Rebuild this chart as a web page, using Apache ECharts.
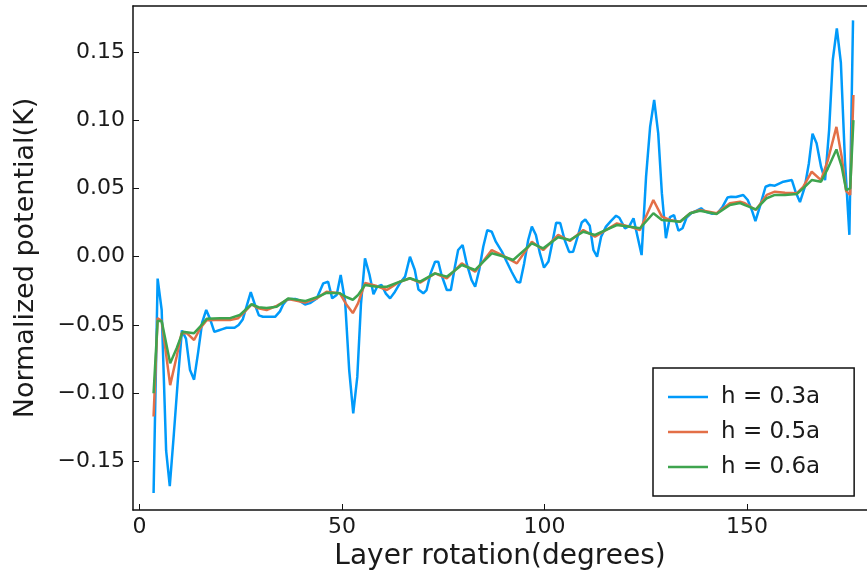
<!DOCTYPE html>
<html>
<head>
<meta charset="utf-8">
<script src="https://cdn.jsdelivr.net/npm/echarts@6/dist/echarts.min.js"></script>
<style>html,body{margin:0;padding:0;background:#fff}#c{width:867px;height:579px}</style>
</head>
<body>
<div id="c"></div>
<script>
const seriesNames = ["h = 0.3a", "h = 0.5a", "h = 0.6a"];
const xTicks = [0, 50, 100, 150];
const yTicks = [-0.15, -0.10, -0.05, 0.00, 0.05, 0.10, 0.15];

// [layer rotation (deg), normalized potential]
const h03 = [[3.5,-0.173],[4.5,-0.016],[5.5,-0.039],[6.6,-0.142],[7.5,-0.168],[8.5,-0.130],[9.5,-0.090],[10.5,-0.054],[11.5,-0.060],[12.5,-0.083],[13.5,-0.090],[14.5,-0.070],[15.5,-0.048],[16.5,-0.039],[17.5,-0.046],[18.5,-0.055],[19.5,-0.054],[20.5,-0.053],[21.5,-0.052],[22.5,-0.052],[23.5,-0.052],[24.5,-0.050],[25.5,-0.046],[26.5,-0.036],[27.5,-0.026],[28.5,-0.035],[29.5,-0.043],[30.5,-0.044],[31.5,-0.044],[32.5,-0.044],[33.5,-0.044],[34.7,-0.040],[35.5,-0.035],[36.4,-0.0317],[37.5,-0.031],[38.5,-0.031],[39.2,-0.0317],[40.9,-0.035],[42.1,-0.034],[43.8,-0.0305],[45.4,-0.0195],[46.6,-0.0183],[47.6,-0.0305],[48.7,-0.028],[49.7,-0.0134],[50.8,-0.033],[51.8,-0.083],[52.8,-0.1147],[53.8,-0.088],[54.7,-0.035],[55.7,-0.0012],[56.8,-0.013],[57.8,-0.0275],[58.7,-0.022],[59.8,-0.0207],[60.8,-0.0268],[61.9,-0.0305],[63.1,-0.0256],[64.3,-0.0195],[65.6,-0.0146],[66.8,0.0],[68.0,-0.0097],[68.9,-0.024],[70.1,-0.0268],[70.9,-0.0244],[71.9,-0.0122],[73.0,-0.0037],[73.8,-0.0037],[74.6,-0.0134],[75.9,-0.0244],[76.9,-0.0244],[77.9,-0.0073],[78.7,0.0049],[79.8,0.0086],[80.8,-0.0049],[82.0,-0.017],[82.9,-0.022],[83.9,-0.0097],[84.9,0.0073],[85.9,0.0195],[87.0,0.0183],[88.0,0.011],[89.5,0.0037],[90.7,-0.0037],[91.9,-0.011],[93.2,-0.0183],[94.0,-0.019],[95.0,-0.0049],[96.0,0.0122],[96.9,0.022],[97.9,0.0159],[98.9,0.0024],[99.9,-0.008],[101.0,-0.0035],[102.0,0.011],[102.9,0.0249],[103.9,0.0247],[105.0,0.0122],[106.1,0.0035],[107.1,0.0037],[108.2,0.0146],[109.2,0.025],[110.1,0.0272],[111.2,0.0226],[112.1,0.0049],[113.0,0.0],[114.0,0.0146],[115.2,0.022],[116.4,0.026],[117.7,0.030],[118.5,0.0285],[119.9,0.0208],[121.0,0.0226],[122.0,0.0281],[123.0,0.0146],[124.0,0.0012],[125.1,0.0586],[126.1,0.095],[127.1,0.1147],[128.1,0.0903],[129.0,0.0465],[130.0,0.0135],[131.0,0.029],[132.0,0.0305],[133.1,0.019],[134.1,0.0208],[135.1,0.0287],[136.3,0.032],[137.6,0.0337],[138.7,0.0354],[139.7,0.033],[141.3,0.0315],[142.7,0.0318],[144.0,0.0366],[145.2,0.0433],[146.1,0.0439],[147.3,0.0437],[149.1,0.0452],[150.2,0.0415],[151.2,0.0342],[152.1,0.026],[153.2,0.0366],[154.6,0.0512],[155.7,0.0525],[156.9,0.052],[159.0,0.0549],[161.1,0.0561],[162.0,0.0476],[163.1,0.040],[164.3,0.0512],[165.3,0.0684],[166.2,0.090],[167.2,0.083],[168.3,0.0659],[169.3,0.056],[170.3,0.0928],[171.2,0.144],[172.2,0.1672],[173.2,0.142],[174.2,0.0708],[175.3,0.016],[176.2,0.173]];

const h05 = [[3.5,-0.117],[4.5,-0.045],[5.5,-0.047],[7.6,-0.094],[9.2,-0.073],[10.4,-0.056],[11.7,-0.056],[13.5,-0.061],[15.0,-0.0525],[16.6,-0.0465],[18.7,-0.0463],[22.4,-0.0463],[24.4,-0.045],[26.1,-0.040],[27.7,-0.035],[29.4,-0.0378],[31.4,-0.039],[33.9,-0.036],[36.8,-0.031],[40.9,-0.0335],[43.8,-0.0305],[46.2,-0.0256],[49.5,-0.0268],[51.2,-0.0354],[52.7,-0.0413],[54.0,-0.034],[55.7,-0.0193],[58.6,-0.0215],[61.1,-0.0244],[64.3,-0.0183],[66.8,-0.0158],[69.3,-0.019],[73.0,-0.0122],[75.9,-0.0158],[79.6,-0.0049],[82.9,-0.011],[87.0,0.0049],[89.5,0.0012],[93.2,-0.0049],[96.9,0.011],[99.7,0.0049],[103.4,0.0159],[106.3,0.0115],[109.6,0.0195],[112.5,0.0146],[117.9,0.0244],[121.1,0.022],[123.6,0.0195],[126.9,0.0415],[129.0,0.0293],[131.0,0.0269],[133.5,0.0256],[136.0,0.0318],[138.4,0.0342],[142.5,0.0318],[145.8,0.0391],[148.3,0.0403],[149.5,0.0391],[152.2,0.0342],[154.9,0.0452],[156.9,0.0476],[159.4,0.0469],[162.3,0.0464],[163.9,0.0512],[166.0,0.0622],[168.3,0.0561],[170.0,0.0708],[172.1,0.095],[173.4,0.0732],[174.5,0.048],[175.5,0.0452],[176.3,0.1184]];

const h06 = [[3.5,-0.100],[4.5,-0.047],[5.5,-0.047],[7.6,-0.078],[9.2,-0.067],[10.7,-0.055],[13.5,-0.056],[15.0,-0.0512],[16.6,-0.0455],[19.9,-0.045],[22.4,-0.045],[24.8,-0.0427],[27.7,-0.0348],[29.4,-0.037],[31.4,-0.0375],[33.9,-0.0366],[36.8,-0.0305],[40.9,-0.0325],[43.8,-0.0297],[46.2,-0.0264],[49.5,-0.0268],[51.2,-0.0297],[52.7,-0.0315],[54.0,-0.028],[55.7,-0.0207],[58.6,-0.022],[61.1,-0.022],[64.3,-0.0183],[66.8,-0.0158],[69.3,-0.0183],[73.0,-0.0122],[75.9,-0.0146],[79.6,-0.0061],[82.9,-0.0097],[87.0,0.0025],[89.5,0.0005],[92.3,-0.0024],[96.9,0.0098],[99.7,0.0061],[103.4,0.0142],[106.3,0.0122],[109.6,0.0183],[112.5,0.0159],[117.9,0.0232],[121.1,0.022],[123.6,0.0208],[126.9,0.0318],[129.0,0.0269],[131.0,0.0264],[133.5,0.0256],[136.0,0.0318],[138.4,0.0337],[142.5,0.0313],[145.8,0.0378],[148.3,0.0393],[149.5,0.0378],[152.2,0.0347],[154.9,0.0428],[156.9,0.0452],[159.4,0.0452],[162.3,0.0459],[163.9,0.050],[166.0,0.0561],[168.3,0.0549],[170.0,0.0647],[172.1,0.0785],[173.4,0.0659],[174.5,0.0488],[175.5,0.050],[176.3,0.100]];

const colors = ["#009AFA", "#E36F47", "#3EA44E"];
const FONT = "DejaVu Sans";
const XMIN = -1.58, XMAX = 179.65;

const chart = echarts.init(document.getElementById('c'), null, {renderer: 'canvas'});
chart.setOption({
  animation: false,
  backgroundColor: '#fff',
  grid: {left: 133, top: 6, right: 0, bottom: 69, show: false},
  xAxis: [{
    type: 'value', min: XMIN, max: XMAX, position: 'bottom',
    name: 'Layer rotation(degrees)', nameLocation: 'middle', nameGap: 31,
    nameTextStyle: {fontFamily: FONT, fontSize: 28, color: '#1a1a1a'},
    axisLine: {show: true, onZero: false, lineStyle: {color: '#111', width: 1.5}},
    axisTick: {show: true, inside: true, length: 6, customValues: xTicks, lineStyle: {color: '#111', width: 1}},
    axisLabel: {customValues: xTicks, fontFamily: FONT, fontSize: 22, color: '#1a1a1a', margin: 6},
    splitLine: {show: false}
  }, {
    type: 'value', min: XMIN, max: XMAX, position: 'top',
    axisLine: {show: true, onZero: false, lineStyle: {color: '#111', width: 1.5}},
    axisTick: {show: false}, axisLabel: {show: false}, splitLine: {show: false}
  }],
  yAxis: {
    type: 'value', min: -0.18543, max: 0.18353,
    name: 'Normalized potential(K)', nameLocation: 'middle', nameGap: 94, nameRotate: 90,
    nameTextStyle: {fontFamily: FONT, fontSize: 27, color: '#1a1a1a'},
    axisLine: {show: true, onZero: false, lineStyle: {color: '#111', width: 1.5}},
    axisTick: {show: true, inside: true, length: 6, customValues: yTicks, lineStyle: {color: '#111', width: 1}},
    axisLabel: {customValues: yTicks, fontFamily: FONT, fontSize: 22, color: '#1a1a1a', margin: 8,
      formatter: v => v.toFixed(2).replace('-', '\u2212')},
    splitLine: {show: false}
  },
  legend: {
    show: true, orient: 'vertical', left: 653, top: 368,
    data: seriesNames,
    icon: 'rect', itemWidth: 40, itemHeight: 2.5, itemGap: 11,
    padding: [17, 34, 17, 15],
    borderColor: '#111', borderWidth: 1.5, backgroundColor: '#fff',
    textStyle: {fontFamily: FONT, fontSize: 23, color: '#1a1a1a', lineHeight: 24, padding: [0, 0, 0, 8]}
  },
  series: [
    {name: seriesNames[0], type: 'line', data: h03, showSymbol: false, symbol: 'none', color: colors[0], lineStyle: {width: 2.5}, z: 2},
    {name: seriesNames[1], type: 'line', data: h05, showSymbol: false, symbol: 'none', color: colors[1], lineStyle: {width: 2.5}, z: 3},
    {name: seriesNames[2], type: 'line', data: h06, showSymbol: false, symbol: 'none', color: colors[2], lineStyle: {width: 2.5}, z: 4}
  ]
});
</script>
</body>
</html>
